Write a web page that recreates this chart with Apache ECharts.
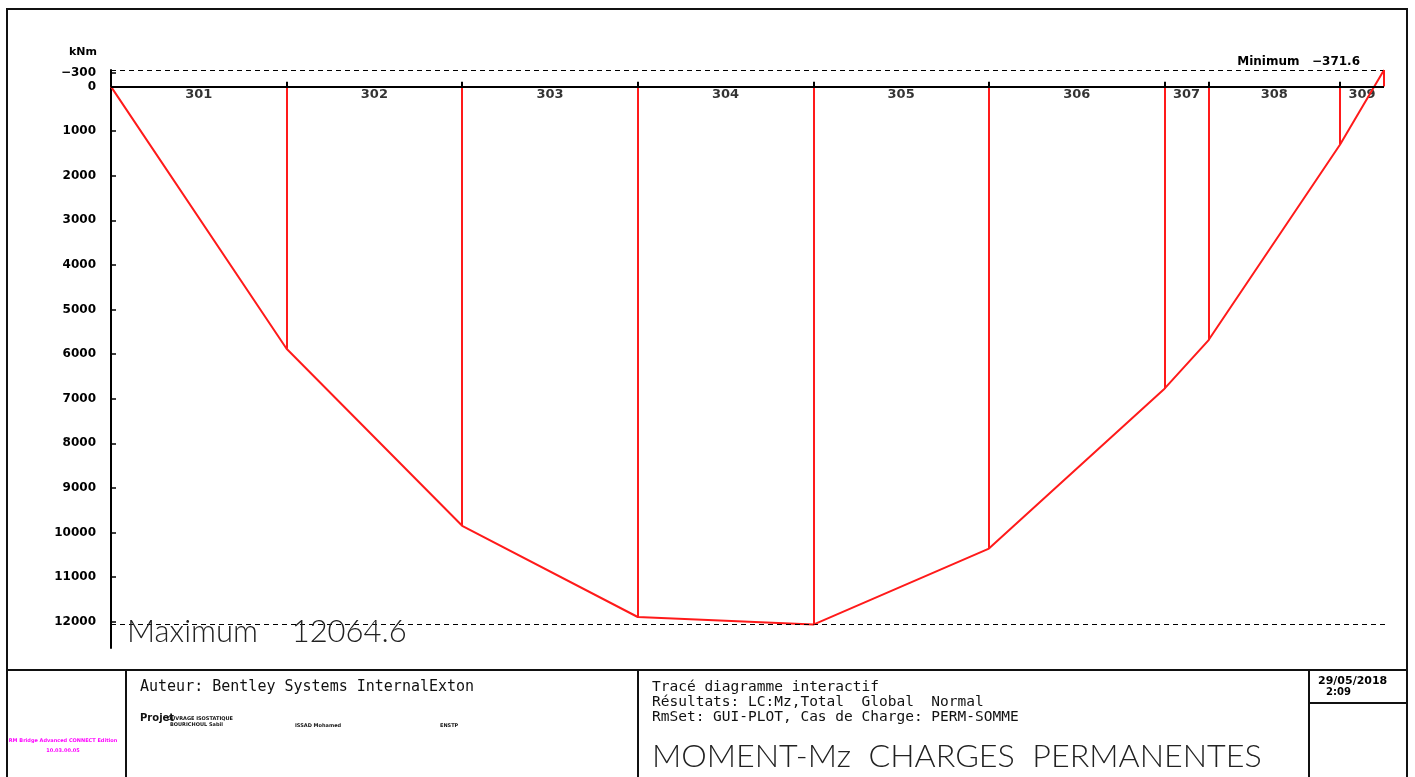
<!DOCTYPE html>
<html>
<head>
<meta charset="utf-8">
<script src="https://cdn.jsdelivr.net/npm/echarts@6/dist/echarts.min.js"></script>
<style>
html,body{margin:0;padding:0;background:#fff;}
#main{width:1415px;height:777px;}
</style>
</head>
<body>
<div id="main"></div>
<script>
// span names and node abscissae (m along the deck)
var spans = ['301','302','303','304','305','306','307','308','309'];
var nodeX = [0, 40, 80, 120, 160, 200, 240, 250, 280, 290];
// bending moment Mz at each node (kNm)
var moments = [0, 5880, 9850, 11895, 12064.6, 10360, 6775, 5690, 1300, -371.6];
var yTicks = [-300, 0, 1000, 2000, 3000, 4000, 5000, 6000, 7000, 8000, 9000, 10000, 11000, 12000];

var cadFont = '"DejaVu Sans", sans-serif';
var thinFont = 'Lato, "DejaVu Sans", sans-serif';
var monoFont = '"DejaVu Sans Mono", monospace';

var myChart = echarts.init(document.getElementById('main'));

var curve = nodeX.map(function (x, i) { return [x, moments[i]]; });
var maxVal = Math.max.apply(null, moments);
var minVal = Math.min.apply(null, moments);

// vertical red lines from the axis down to the diagram at each inner node
var verticals = [];
var nodeTicks = [];
for (var i = 1; i < nodeX.length; i++) {
    verticals.push([{coord: [nodeX[i], 0]}, {coord: [nodeX[i], moments[i]]}]);
    if (i < nodeX.length - 1) {
        nodeTicks.push([{coord: [nodeX[i], 0]}, {coord: [nodeX[i], -110]}]);
    }
}
var spanLabels = spans.map(function (s, i) {
    return {value: [(nodeX[i] + nodeX[i + 1]) / 2, 0], name: s};
});

option = {
    animation: false,
    backgroundColor: '#fff',
    grid: {left: 111, right: 31, top: 70, bottom: 129},
    xAxis: {
        type: 'value',
        min: 0,
        max: 290,
        show: false
    },
    yAxis: {
        type: 'value',
        inverse: true,
        min: -371.6,
        max: 12590,
        name: 'kNm',
        nameLocation: 'start',
        nameGap: 12,
        nameTextStyle: {color: '#000', fontFamily: cadFont, fontWeight: 'bold', fontSize: 11, align: 'right', padding: [0, 14, 0, 0]},
        splitLine: {show: false},
        axisLine: {show: true, lineStyle: {color: '#000', width: 2}},
        axisTick: {show: true, inside: true, length: 5, customValues: yTicks, lineStyle: {color: '#000', width: 1.5}},
        axisLabel: {
            customValues: yTicks,
            color: '#000',
            fontFamily: cadFont,
            fontWeight: 'bold',
            fontSize: 12,
            margin: 15,
            formatter: function (v) { return v < 0 ? '\u2212' + Math.abs(v) : String(v); }
        }
    },
    series: [
        {
            name: 'Mz',
            type: 'line',
            data: curve,
            symbol: 'none',
            lineStyle: {color: '#ff1a1a', width: 2},
            markLine: {
                symbol: 'none',
                silent: true,
                data: [
                    [{coord: [0, minVal], lineStyle: {type: [5, 4], color: '#000', width: 1.2},
                      label: {show: true, position: 'insideEndTop', formatter: 'Minimum   ' + '\u2212' + Math.abs(minVal),
                              color: '#000', fontFamily: cadFont, fontWeight: 'bold', fontSize: 12, distance: [24, 2]}},
                     {coord: [290, minVal]}],
                    [{coord: [0, maxVal], lineStyle: {type: [5, 4], color: '#000', width: 1.2},
                      label: {show: true, position: 'insideStart', formatter: 'Maximum    ' + maxVal,
                              color: '#222', fontFamily: thinFont, fontWeight: 300, fontSize: 31,
                              distance: [16, 0], verticalAlign: 'top', lineHeight: 14}},
                     {coord: [290, maxVal], x: 1388}]
                ]
            }
        },
        {
            name: 'verticals',
            type: 'line',
            data: [],
            markLine: {
                symbol: 'none',
                silent: true,
                label: {show: false},
                lineStyle: {color: '#ff1a1a', width: 2, type: 'solid'},
                data: verticals
            }
        },
        {
            name: 'axis',
            type: 'line',
            data: [],
            markLine: {
                symbol: 'none',
                silent: true,
                label: {show: false},
                lineStyle: {color: '#000', width: 2, type: 'solid'},
                data: [[{coord: [0, 0]}, {coord: [290, 0]}]].concat(nodeTicks)
            }
        },
        {
            name: 'spans',
            type: 'scatter',
            symbolSize: 0,
            data: spanLabels,
            label: {
                show: true,
                position: 'bottom',
                distance: 2,
                formatter: '{b}',
                color: '#000',
                fontFamily: cadFont,
                fontWeight: 'bold',
                fontSize: 13
            }
        }
    ],
    graphic: [
        // drawing frame and title block
        {type: 'rect', shape: {x: 7, y: 9, width: 1400, height: 800}, style: {fill: 'none', stroke: '#111', lineWidth: 2}},
        {type: 'line', shape: {x1: 7, y1: 670, x2: 1407, y2: 670}, style: {stroke: '#111', lineWidth: 2}},
        {type: 'line', shape: {x1: 126, y1: 670, x2: 126, y2: 777}, style: {stroke: '#111', lineWidth: 2}},
        {type: 'line', shape: {x1: 638, y1: 670, x2: 638, y2: 777}, style: {stroke: '#111', lineWidth: 2}},
        {type: 'line', shape: {x1: 1309, y1: 670, x2: 1309, y2: 777}, style: {stroke: '#111', lineWidth: 2}},
        {type: 'line', shape: {x1: 1309, y1: 703, x2: 1407, y2: 703}, style: {stroke: '#111', lineWidth: 2}},
        {type: 'text', x: 1318, y: 676, style: {text: '29/05/2018', fill: '#000', font: 'bold 11px "DejaVu Sans"'}},
        {type: 'text', x: 1326, y: 687, style: {text: '2:09', fill: '#000', font: 'bold 10px "DejaVu Sans"'}},
        {type: 'text', x: 140, y: 680, style: {text: 'Auteur: Bentley Systems InternalExton', fill: '#111', font: '15px ' + monoFont}},
        {type: 'text', x: 140, y: 713, style: {text: 'Projet', fill: '#111', font: 'bold 10px "DejaVu Sans"'}},
        {type: 'text', x: 167, y: 716, style: {text: 'OUVRAGE ISOSTATIQUE', fill: '#111', font: 'bold 5px "DejaVu Sans"'}},
        {type: 'text', x: 170, y: 722, style: {text: 'BOURICHOUL Sabil', fill: '#111', font: 'bold 5px "DejaVu Sans"'}},
        {type: 'text', x: 295, y: 723, style: {text: 'ISSAD Mohamed', fill: '#111', font: 'bold 5px "DejaVu Sans"'}},
        {type: 'text', x: 440, y: 723, style: {text: 'ENSTP', fill: '#111', font: 'bold 5px "DejaVu Sans"'}},
        {type: 'text', x: 63, y: 738, style: {text: 'RM Bridge Advanced CONNECT Edition', fill: '#ff00ff', font: 'bold 5px "DejaVu Sans"', align: 'center'}},
        {type: 'text', x: 63, y: 748, style: {text: '10.03.00.05', fill: '#ff00ff', font: 'bold 5px "DejaVu Sans"', align: 'center'}},
        {type: 'text', x: 652, y: 680, style: {text: 'Tracé diagramme interactif', fill: '#111', font: '14.5px ' + monoFont}},
        {type: 'text', x: 652, y: 695, style: {text: 'Résultats: LC:Mz,Total  Global  Normal', fill: '#111', font: '14.5px ' + monoFont}},
        {type: 'text', x: 652, y: 710, style: {text: 'RmSet: GUI-PLOT, Cas de Charge: PERM-SOMME', fill: '#111', font: '14.5px ' + monoFont}},
        {type: 'text', x: 652, y: 741, scaleX: 1.04, originX: 0, style: {text: 'MOMENT-Mz  CHARGES  PERMANENTES', fill: '#222', font: '300 31px Lato'}}
    ]
};
myChart.setOption(option);
</script>
</body>
</html>
